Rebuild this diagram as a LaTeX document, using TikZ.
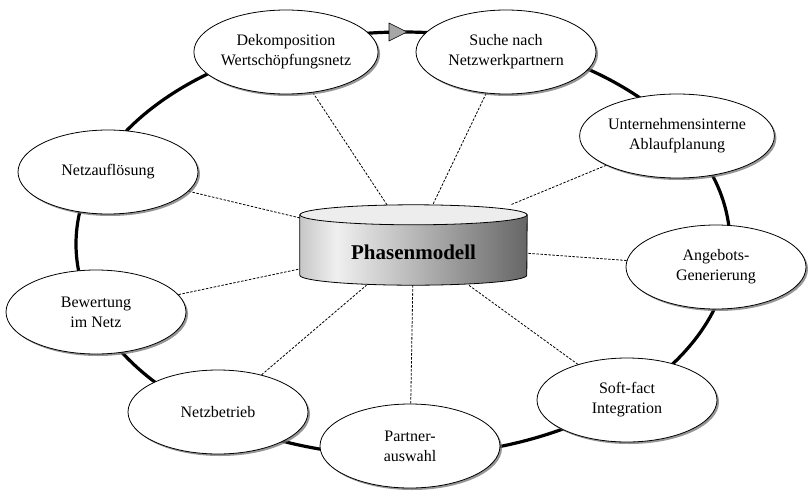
\documentclass[tikz,border=0pt]{standalone}
\usepackage{fontspec}
\setmainfont{Liberation Serif}
\usetikzlibrary{shapes.geometric,shadows,backgrounds}
\definecolor{ink}{HTML}{000000}
\definecolor{tipgray}{HTML}{A6A6A6}
\definecolor{topgray}{HTML}{EDEDED}
\pgfdeclarehorizontalshading{cylbody}{100bp}{color(0bp)=(black!22); color(25bp)=(black!22); color(33bp)=(black!6); color(75bp)=(black!60); color(100bp)=(black!60)}
\tikzset{
  phase/.style={ellipse,draw=ink,line width=0.8pt,fill=white,
    minimum width=180pt,minimum height=84pt,inner sep=0pt,align=center,
    font=\fontsize{16}{20}\selectfont,
    drop shadow={shadow xshift=2pt,shadow yshift=-2pt,fill=black!55,opacity=.75}},
  ring/.style={line width=3.2pt,draw=ink},
  link/.style={draw=ink,line width=0.8pt,dash pattern=on 2.5pt off 1.5pt},
  cylbox/.style={rectangle,minimum width=227pt,minimum height=80pt,inner sep=0pt},
}

\begin{document}
\begin{tikzpicture}[x=1pt,y=-1pt]
  \useasboundingbox (0,0) rectangle (808,490);
  \node[phase] (dek)  at (286,52)  {Dekomposition\\Wertschöpfungsnetz};
  \node[phase] (such) at (506,52)  {Suche nach\\Netzwerkpartnern};
  \node[phase] (unt)  at (677,136) {Unternehmensinterne\\Ablaufplanung};
  \node[phase] (ang)  at (716,267) {Angebots-\\Generierung};
  \node[phase] (soft) at (627,400) {Soft-fact\\Integration};
  \node[phase] (part) at (410,446) {Partner-\\auswahl};
  \node[phase] (betr) at (218,412) {Netzbetrieb};
  \node[phase] (bew)  at (96,312)  {Bewertung\\im Netz};
  \node[phase] (aufl) at (108,172) {Netzauflösung};
  % central cylinder
  \node[cylbox] (pm) at (413.5,245) {};
  \begin{scope}[on background layer]
    \draw[ring] (403,244) ellipse [x radius=327pt,y radius=212pt];
    \foreach \p in {dek,such,unt,ang,soft,part,betr,bew,aufl}
      \draw[link] (\p) -- (pm);
  \end{scope}
  \path[shading=cylbody,draw=ink,line width=0.8pt]
    ([yshift=-10pt]pm.north west) -- ([yshift=10pt]pm.south west)
    arc[start angle=180,end angle=360,x radius=113.5pt,y radius=10pt]
    -- ([yshift=-10pt]pm.north east) -- cycle;
  \draw[fill=topgray,draw=ink,line width=0.8pt]
    ([yshift=-10pt]pm.north) ellipse [x radius=113.5pt,y radius=10pt];
  \node[font=\bfseries\fontsize{21}{24}\selectfont] (pmtext)
    at ([yshift=-7pt]pm.center) {Phasenmodell};
  % direction mark on the ring
  \draw[fill=tipgray,draw=ink,line width=0.6pt]
    (389,23) -- (407,32) -- (389,41) -- cycle;
\end{tikzpicture}
\end{document}
